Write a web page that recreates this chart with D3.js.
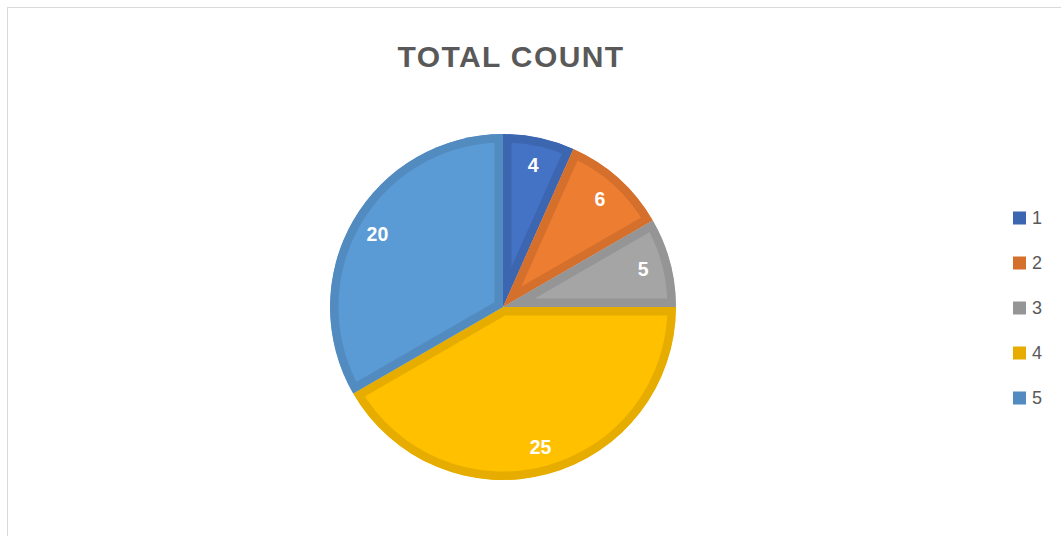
<!DOCTYPE html>
<html>
<head>
<meta charset="utf-8">
<script src="https://cdn.jsdelivr.net/npm/d3@7"></script>
<style>
  body { margin: 0; background: #fff; }
  svg { display: block; }
</style>
</head>
<body>
<script>
// chart data
var categories = ["1", "2", "3", "4", "5"];
var counts = [4, 6, 5, 25, 20];
var fills = ["#4472C4", "#ED7D31", "#A5A5A5", "#FFC000", "#5B9BD5"];
var borders = ["#3D66B1", "#D5702C", "#959595", "#E6AD00", "#528BC0"];
var title = "TOTAL COUNT";

var width = 1061, height = 536;
var cx = 503, cy = 307, radius = 173, border = 8.5;

var svg = d3.select("body").append("svg")
    .attr("width", width)
    .attr("height", height);

// chart area frame
svg.append("rect")
    .attr("x", 7.5).attr("y", 7.5)
    .attr("width", width + 10).attr("height", height + 10)
    .attr("fill", "#fff")
    .attr("stroke", "#D9D9D9")
    .attr("stroke-width", 1);

svg.append("text")
    .attr("x", 511).attr("y", 67)
    .attr("text-anchor", "middle")
    .style("font-family", "'Liberation Sans', Arial, sans-serif")
    .style("font-weight", "bold")
    .style("font-size", "30px")
    .style("letter-spacing", "1.4px")
    .attr("fill", "#595959")
    .text(title);

var pie = d3.pie().sort(null).value(function(d) { return d; });
var arcs = pie(counts);
var arc = d3.arc().innerRadius(0).outerRadius(radius);
var labelArc = d3.arc().innerRadius(145).outerRadius(145);

var g = svg.append("g")
    .attr("transform", "translate(" + cx + "," + cy + ")");

var defs = svg.append("defs");
defs.selectAll("clipPath")
    .data(arcs)
    .enter().append("clipPath")
    .attr("id", function(d, i) { return "slice" + i; })
    .append("path")
    .attr("d", arc);

//slices, border kept inside each slice
g.selectAll(".slice")
    .data(arcs)
    .enter().append("path")
    .attr("class", "slice")
    .attr("d", arc)
    .attr("clip-path", function(d, i) { return "url(#slice" + i + ")"; })
    .attr("fill", function(d, i) { return fills[i]; })
    .attr("stroke", function(d, i) { return borders[i]; })
    .attr("stroke-width", border * 2)
    .attr("stroke-linejoin", "miter");

g.selectAll(".lbl")
    .data(arcs)
    .enter().append("text")
    .attr("class", "lbl")
    .attr("transform", function(d) { return "translate(" + labelArc.centroid(d) + ")"; })
    .attr("text-anchor", "middle")
    .attr("dy", "0.35em")
    .style("font-family", "'Liberation Sans', Arial, sans-serif")
    .style("font-weight", "bold")
    .style("font-size", "19.5px")
    .attr("fill", "#fff")
    .text(function(d) { return d.data; });

// legend
var ly = d3.scalePoint().domain(categories).range([218, 398]);
var legend = svg.selectAll(".leg")
    .data(categories)
    .enter().append("g")
    .attr("class", "leg")
    .attr("transform", function(d) { return "translate(1013," + ly(d) + ")"; });

legend.append("rect")
    .attr("x", 0).attr("y", -6.5)
    .attr("width", 13).attr("height", 13)
    .attr("fill", function(d, i) { return borders[i]; });

legend.append("text")
    .attr("x", 19).attr("dy", "0.35em")
    .style("font-family", "'Liberation Sans', Arial, sans-serif")
    .style("font-size", "18px")
    .attr("fill", "#595959")
    .text(function(d) { return d; });
</script>
</body>
</html>
